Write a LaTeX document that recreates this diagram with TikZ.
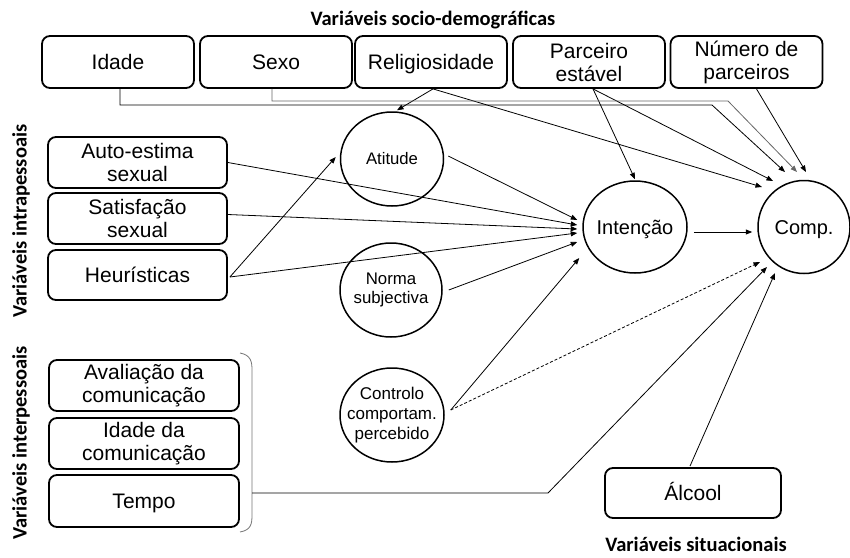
\documentclass[tikz,border=0pt]{standalone}
\usepackage{fontspec}
\setmainfont{Liberation Sans}
\newfontfamily\titlefont{Carlito}
\usetikzlibrary{arrows.meta,shapes.geometric}
\newcommand\zb[1]{\makebox[0pt]{#1}}
\newcommand\zc[1]{\makebox[0pt]{\smash{\raisebox{-7pt}{#1}}}}
\newcommand\nd[1]{\raisebox{0pt}[0.716em][0pt]{#1}}
\begin{document}
\begin{tikzpicture}[x=1pt,y=-1pt,
  box/.style={draw, line width=1.8pt, rounded corners=8pt, inner sep=0pt, align=center,
    font=\fontsize{21}{23}\selectfont},
  topbox/.style={box, minimum width=152pt, minimum height=52pt},
  circ/.style={draw, line width=1.5pt, ellipse, inner sep=0pt, align=center},
  ttl/.style={font=\titlefont\bfseries\fontsize{20.5}{22}\selectfont, inner sep=0pt},
  con/.style={line width=0.8pt},
  arr/.style={con, -{Triangle[length=6.5pt,width=5pt]}},
  garr/.style={arr, draw=black!60},
  dsh/.style={arr, dash pattern=on 3pt off 2pt}
]
\useasboundingbox (0,0) rectangle (850,557);

% titles
\node[ttl] (tsocio) at (433,20) {Variáveis socio-demográficas};
\node[ttl, rotate=90] (tintra) at (21,221) {Variáveis intrapessoais};
\node[ttl, rotate=90] (tinter) at (21,443) {Variáveis interpessoais};
\node[ttl] (tsit) at (696,544) {Variáveis situacionais};

% top boxes
\node[topbox] (idade) at (118,62) {\nd{Idade}};
\node[topbox] (sexo) at (276,62) {\nd{Sexo}};
\node[topbox] (relig) at (431,62) {\nd{Religiosidade}};
\node[topbox] (parc) at (589,62) {Parceiro\\estável};
\node[topbox] (num) at (746.5,62) {Número de\\parceiros};

% intrapersonal
\node[box, minimum width=179pt, minimum height=51pt] (auto) at (137.5,162.5) {Auto-estima\\sexual};
\node[box, minimum width=179pt, minimum height=51pt] (satis) at (137.5,218.5) {Satisfação\\sexual};
\node[box, minimum width=179pt, minimum height=50pt] (heur) at (137.5,275) {\nd{Heurísticas}};

% interpersonal
\node[box, minimum width=190pt, minimum height=51pt] (aval) at (144,385.5) {Avaliação da\\comunicação};
\node[box, minimum width=190pt, minimum height=51pt] (idcom) at (144,443.5) {Idade da\\comunicação};
\node[box, minimum width=190pt, minimum height=52pt] (tempo) at (144,501) {\nd{Tempo}};

% situational
\node[box, minimum width=176pt, minimum height=50pt] (alcool) at (693,493) {\nd{Álcool}};

% circles
\node[circ, minimum width=103pt, minimum height=94pt, font=\fontsize{16.7}{18.5}\selectfont] (att) at (392,159) {\zb{Atitude}};
\node[circ, minimum width=102pt, minimum height=94pt, font=\fontsize{16.8}{18.5}\selectfont] (norm) at (391,290) {\zb{Norma}\\\zb{subjectiva}};
\node[circ, minimum width=104pt, minimum height=94pt, font=\fontsize{17}{20}\selectfont] (ctrl) at (392,415) {\zb{Controlo}\\\zb{comportam.}\\\zb{percebido}};
\node[circ, minimum width=104pt, minimum height=92pt, font=\fontsize{20}{22}\selectfont] (int) at (635,227) {\zc{Intenção}};
\node[circ, minimum width=92pt, minimum height=93pt, font=\fontsize{20}{22}\selectfont] (comp) at (804,227) {\zc{Comp.}};

% bend points
\coordinate (ib1) at (120,105);
\coordinate (ib2) at (712,105);
\coordinate (sb1) at (272,101);
\coordinate (sb2) at (728,101);
\coordinate (tb) at (548,493);

% brace
\draw[draw=black!55, line width=0.8pt] (240,353) .. controls (251,355) and (252,362) .. (252,370) -- (252,515) .. controls (252,524) and (251,530) .. (240,532);
\coordinate (brc) at (252,493);

% socio-demographic connectors
\draw[arr] ([shift={(2,0)}]relig.south) -- ([shift={(5,-1)}]att.north);
\draw[arr] ([shift={(2,0)}]relig.south) -- ([shift={(-42,-40)}]comp.center);
\draw[arr] ([shift={(4,0)}]parc.south) -- ([shift={(0,-1)}]int.north);
\draw[arr] ([shift={(4,0)}]parc.south) -- ([shift={(-31,-46)}]comp.center);
\draw[arr] ([shift={(2,0)}]idade.south) -- (ib1) -- (ib2) -- ([shift={(-19,-55)}]comp.center);
\draw[garr] ([shift={(-4,0)}]sexo.south) -- (sb1) -- (sb2) -- ([shift={(-7,-55)}]comp.center);
\draw[arr] ([shift={(10,0)}]num.south) -- ([shift={(2,-55)}]comp.center);

% intrapersonal connectors
\draw[arr] (auto.east) -- ([shift={(-5,-2)}]int.west);
\draw[arr] ([shift={(0,-4)}]satis.east) -- ([shift={(-5,2)}]int.west);
\draw[arr] ([shift={(2,2)}]heur.east) -- ([shift={(-5,6)}]int.west);
\draw[arr] ([shift={(2,2)}]heur.east) -- ([shift={(-4,-2)}]att.west);

% TPB connectors
\draw[arr] ([shift={(4,-3)}]att.east) -- ([shift={(-5,-7)}]int.west);
\draw[arr] ([shift={(6,0)}]norm.east) -- ([shift={(-5,15)}]int.west);
\draw[arr] ([shift={(6,-5)}]ctrl.east) -- ([shift={(-3,31)}]int.west);
\draw[dsh] ([shift={(6,-5)}]ctrl.east) -- ([shift={(-44,35)}]comp.center);
\draw[arr] ([shift={(6,5)}]int.east) -- ([shift={(-5,5)}]comp.west);

% interpersonal / situational
\draw[arr] (brc) -- (tb) -- ([shift={(-37,40)}]comp.center);
\draw[arr] ([shift={(-3,-1)}]alcool.north) -- ([shift={(-29,46)}]comp.center);
\end{tikzpicture}
\end{document}
